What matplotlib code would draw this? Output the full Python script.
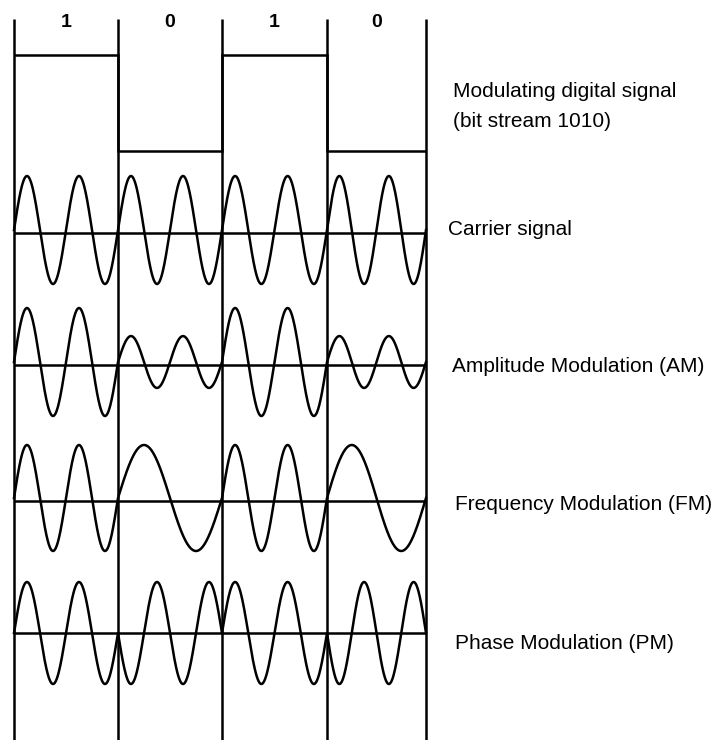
import numpy as np
from matplotlib import pyplot as plt

# bit stream and how each scheme encodes it
bits = [1, 0, 1, 0]
bit_labels = ["1", "0", "1", "0"]
carrier_cycles = [2, 2, 2, 2]
am_amplitude = [1.0, 0.48, 1.0, 0.48]
fm_cycles = [2, 1, 2, 1]
pm_phase = [0.0, np.pi, 0.0, np.pi]

row_labels = ["Carrier signal", "Amplitude Modulation (AM)",
              "Frequency Modulation (FM)", "Phase Modulation (PM)"]

# layout (pixels, y measured from the top)
W, H = 716, 740
edges = [14, 118, 222, 327, 426]      # bit boundaries
digital_level = {1: 55, 0: 151}
row_axis = [233, 365, 501, 633]       # zero line of each analog row
row_center = [230, 362, 498, 633]     # waves sit a touch above the line
row_amp = [54, 54, 53, 51]
row_label_pos = [(448, 235), (452, 372), (455, 510), (455, 649)]
LW = 1.8


def wave(amps, cycles, phases, y0, amp, n=300):
    xs, ys = [], []
    for i in range(len(bits)):
        x = np.linspace(edges[i], edges[i + 1], n)
        u = (x - edges[i]) / (edges[i + 1] - edges[i])
        y = y0 - amp * amps[i] * np.sin(2 * np.pi * cycles[i] * u + phases[i])
        xs.append(x)
        ys.append(y)
    return np.concatenate(xs), np.concatenate(ys)


def main():
    plt.rcParams['font.family'] = ['Liberation Sans', 'DejaVu Sans']
    fig = plt.figure(figsize=(W / 100, H / 100), dpi=100)
    ax = fig.add_axes([0, 0, 1, 1])
    ax.set_xlim(0, W)
    ax.set_ylim(H, 0)
    ax.axis('off')

    # bit dividers
    ax.vlines(edges, 19, H, color='black', lw=LW)

    # bit labels
    for i, lab in enumerate(bit_labels):
        ax.text((edges[i] + edges[i + 1]) / 2, 27, lab, ha='center', va='baseline',
                fontsize=14, fontweight='bold')

    # modulating digital signal
    ax.stairs([digital_level[b] for b in bits], edges, baseline=None,
              color='black', lw=LW)
    fig.text(453 / W, 1 - 97 / H, "Modulating digital signal", fontsize=15,
             va='baseline')
    fig.text(453 / W, 1 - 127 / H, "(bit stream 1010)", fontsize=15,
             va='baseline')

    ones = [1.0] * len(bits)
    zeros = [0.0] * len(bits)
    rows = [
        (ones, carrier_cycles, zeros),
        (am_amplitude, carrier_cycles, zeros),
        (ones, fm_cycles, zeros),
        (ones, carrier_cycles, pm_phase),
    ]
    for k, (a, c, p) in enumerate(rows):
        ax.hlines(row_axis[k], edges[0], edges[-1], color='black', lw=LW)
        x, y = wave(a, c, p, row_center[k], row_amp[k])
        ax.plot(x, y, color='black', lw=LW)
        lx, ly = row_label_pos[k]
        fig.text(lx / W, 1 - ly / H, row_labels[k], fontsize=15, va='baseline')

    fig.savefig("out.png", dpi=100, facecolor='white')


if __name__ == "__main__":
    main()
